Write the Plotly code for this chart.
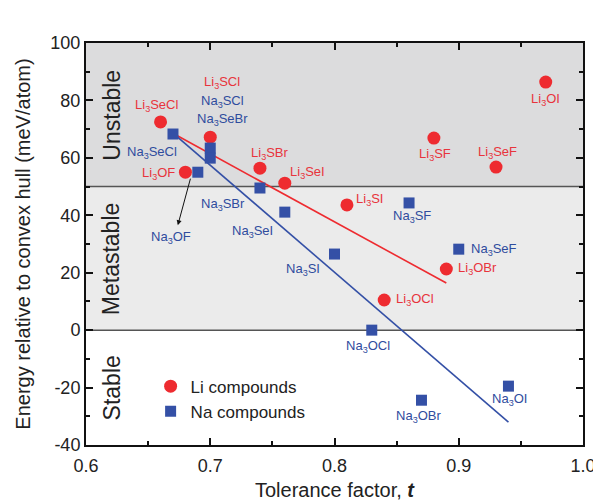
import plotly.graph_objects as go

# ---- data ----
li_names = ["Li<sub>3</sub>SeCl", "Li<sub>3</sub>SCl", "Li<sub>3</sub>OF", "Li<sub>3</sub>SBr",
            "Li<sub>3</sub>SeI", "Li<sub>3</sub>SI", "Li<sub>3</sub>SF", "Li<sub>3</sub>SeF",
            "Li<sub>3</sub>OI", "Li<sub>3</sub>OBr", "Li<sub>3</sub>OCl"]
li_t = [0.66, 0.70, 0.68, 0.74, 0.76, 0.81, 0.88, 0.93, 0.97, 0.89, 0.84]
li_e = [72.5, 67.2, 55.0, 56.4, 51.2, 43.6, 66.9, 56.8, 86.4, 21.3, 10.5]

na_names = ["Na<sub>3</sub>SeCl", "Na<sub>3</sub>SCl", "Na<sub>3</sub>SeBr", "Na<sub>3</sub>OF",
            "Na<sub>3</sub>SBr", "Na<sub>3</sub>SeI", "Na<sub>3</sub>SI", "Na<sub>3</sub>OCl",
            "Na<sub>3</sub>SF", "Na<sub>3</sub>SeF", "Na<sub>3</sub>OBr", "Na<sub>3</sub>OI"]
na_t = [0.67, 0.70, 0.70, 0.69, 0.74, 0.76, 0.80, 0.83, 0.86, 0.90, 0.87, 0.94]
na_e = [68.3, 63.4, 59.9, 55.0, 49.5, 41.1, 26.5, 0.0, 44.3, 28.2, -24.4, -19.5]

# fitted trend lines (endpoints)
li_fit_t = [0.671, 0.89]
li_fit_e = [68.3, 16.4]
na_fit_t = [0.67, 0.94]
na_fit_e = [68.6, -32.0]

# axis ticks
x_ticks = [0.6, 0.7, 0.8, 0.9, 1.0]
x_tick_text = ["0.6", "0.7", "0.8", "0.9", "1.0"]
y_ticks = [-40, -20, 0, 20, 40, 60, 80, 100]
y_tick_text = ["-40", "-20", "0", "20", "40", "60", "80", "100"]

# region boundaries
regions = [("Unstable", 50, 100), ("Metastable", 0, 50), ("Stable", -40, 0)]

# ---- styles ----
RED = "#EE2B30"
BLUE = "#3450A6"
RED_TXT = "#E8343C"
BLUE_TXT = "#2F4C9E"
FONT = "Liberation Sans, Arial, sans-serif"

# label pixel offsets (dx right, dy up)
li_off = [(-4, 16), (12, 55), (-27, -1), (10, 15), (23, 11), (23, 5),
          (1, -16), (1, 15), (0, -17), (31, 0), (31, 0)]
na_off = [(-21, -18), (12, 47), (12, 39), (-27, -65), (-37, -16), (-32, -19),
          (-32, -15), (-4, -16), (3, -14), (35, 0), (-3, -16), (1, -13)]

fig = go.Figure()

fills = {"Unstable": "#DCDCDD", "Metastable": "#EBEBEB", "Stable": "#FFFFFF"}
for name, y0, y1 in regions:
    fig.add_shape(type="rect", xref="paper", yref="y", x0=0, x1=1, y0=y0, y1=y1,
                  fillcolor=fills[name], line_width=0, layer="below")
for yb in [0, 50]:
    fig.add_shape(type="line", xref="paper", yref="y", x0=0, x1=1, y0=yb, y1=yb,
                  line=dict(color="#555555", width=1.5), layer="below")

fig.add_trace(go.Scatter(x=li_fit_t, y=li_fit_e, mode="lines",
                         line=dict(color=RED, width=1.6), showlegend=False, hoverinfo="skip"))
fig.add_trace(go.Scatter(x=na_fit_t, y=na_fit_e, mode="lines",
                         line=dict(color=BLUE, width=1.6), showlegend=False, hoverinfo="skip"))

fig.add_trace(go.Scatter(x=li_t, y=li_e, mode="markers", name="Li compounds",
                         marker=dict(symbol="circle", size=13, color=RED)))
fig.add_trace(go.Scatter(x=na_t, y=na_e, mode="markers", name="Na compounds",
                         marker=dict(symbol="square", size=11, color=BLUE)))

for n, t, e, (dx, dy) in zip(li_names, li_t, li_e, li_off):
    fig.add_annotation(x=t, y=e, text=n, showarrow=False, xshift=dx, yshift=dy,
                       xanchor="center", yanchor="middle",
                       font=dict(family=FONT, size=13, color=RED_TXT))
for n, t, e, (dx, dy) in zip(na_names, na_t, na_e, na_off):
    fig.add_annotation(x=t, y=e, text=n, showarrow=False, xshift=dx, yshift=dy,
                       xanchor="center", yanchor="middle",
                       font=dict(family=FONT, size=13, color=BLUE_TXT))

# arrow from Na3OF marker to its label
i_of = na_names.index("Na<sub>3</sub>OF")
fig.add_annotation(x=na_t[i_of], y=na_e[i_of], text="", showarrow=True,
                   xshift=-20, yshift=-53, ax=13, ay=-48,
                   arrowhead=2, arrowsize=1, arrowwidth=1, arrowcolor="#111111")

for name, y0, y1 in regions:
    fig.add_annotation(xref="paper", x=0.052, y=(y0 + y1) / 2, text=name,
                       textangle=-90, showarrow=False, xanchor="center", yanchor="middle",
                       font=dict(family=FONT, size=23, color="#222222"))

axis_common = dict(showline=True, linecolor="#111111", linewidth=2, mirror="allticks",
                   ticks="inside", ticklen=7, tickwidth=2, tickcolor="#111111",
                   showgrid=False, zeroline=False, automargin=False,
                   tickfont=dict(family=FONT, size=18, color="#222222"))

fig.update_xaxes(range=[0.6, 1.0], tickvals=x_ticks, ticktext=x_tick_text,
                 ticklabelstandoff=3,
                 minor=dict(ticks="inside", ticklen=4, tickwidth=2, dtick=0.05, tickcolor="#111111"),
                 title=dict(text="Tolerance factor, <b><i>t</i></b>",
                            font=dict(family=FONT, size=20, color="#222222"), standoff=8),
                 **axis_common)
fig.update_yaxes(range=[-40, 100], tickvals=y_ticks, ticktext=y_tick_text,
                 minor=dict(ticks="inside", ticklen=4, tickwidth=2, dtick=10, tickcolor="#111111"),
                 title=dict(text="Energy relative to convex hull (meV/atom)",
                            font=dict(family=FONT, size=20, color="#222222"), standoff=14),
                 **axis_common)

fig.update_layout(
    width=593, height=496,
    margin=dict(l=78, r=18, t=35, b=59),
    plot_bgcolor="white", paper_bgcolor="white",
    font=dict(family=FONT),
    legend=dict(x=0.13, y=0.19, xanchor="left", yanchor="top",
                bgcolor="rgba(0,0,0,0)", font=dict(family=FONT, size=17, color="#222222"),
                tracegroupgap=0, itemwidth=30),
)

fig.write_html("out.html")
